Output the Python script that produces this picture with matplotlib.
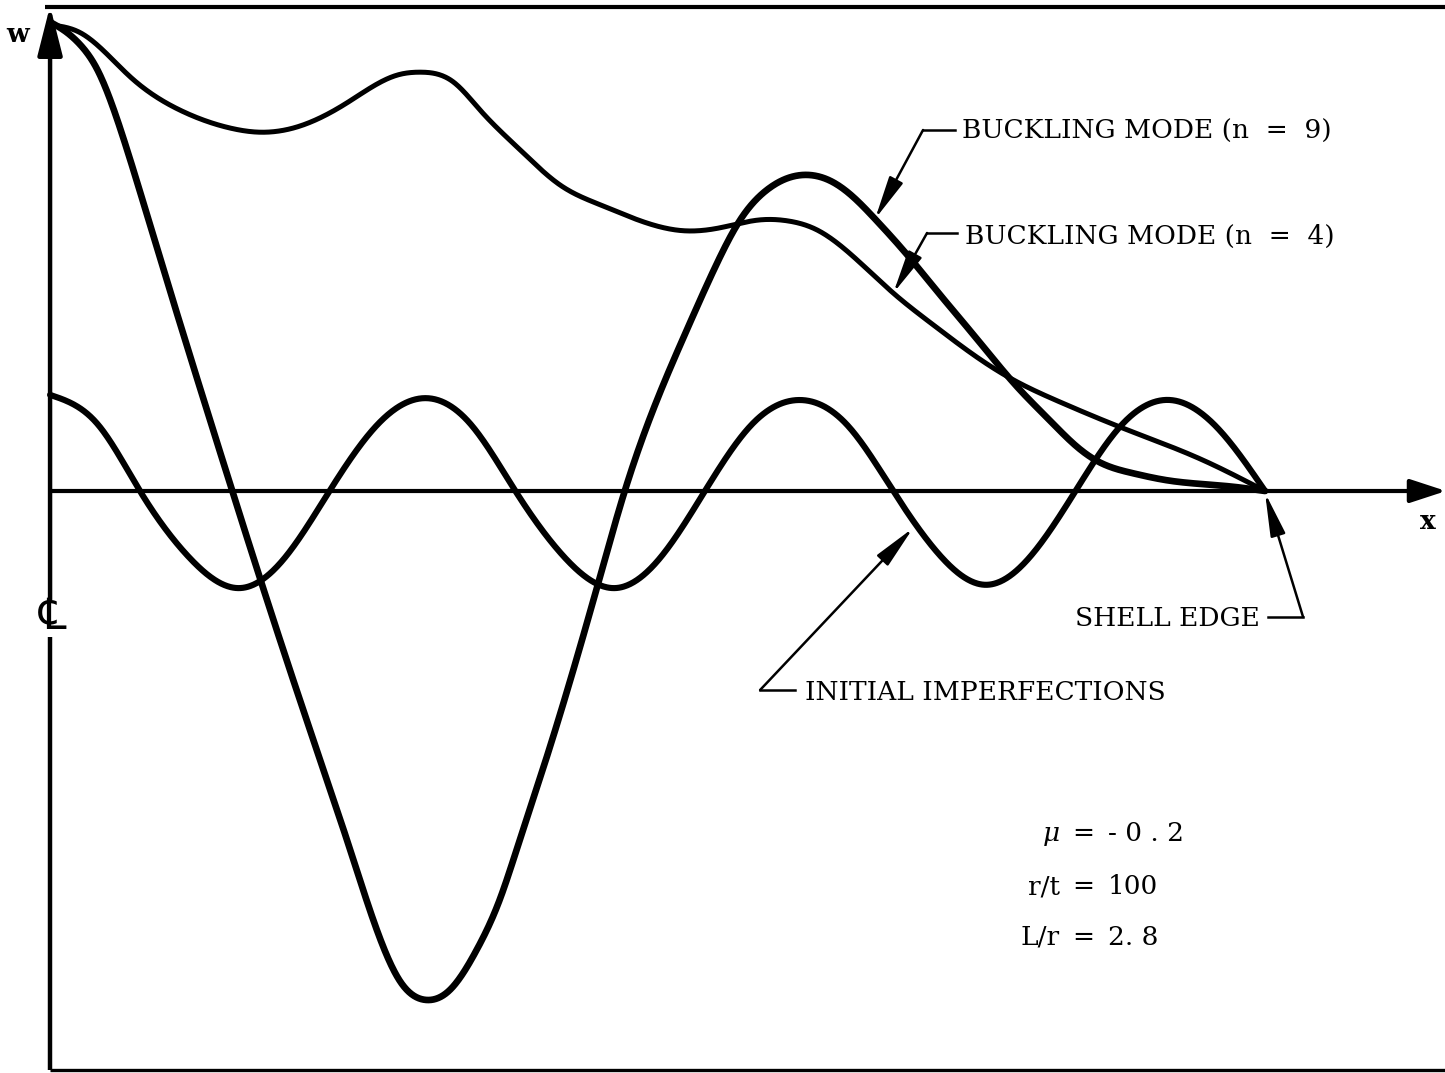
import numpy as np
import matplotlib
matplotlib.use("Agg")
import matplotlib.pyplot as plt

# Axial coordinate x measured from the centre line (CL = 0, shell edge = 1),
# radial deflection w normalised to the buckling-mode value at the centre line.
x_imperf = [0.000, 0.039, 0.074, 0.115, 0.156, 0.193, 0.230, 0.270, 0.309,
            0.346, 0.383, 0.424, 0.465, 0.502, 0.539, 0.578, 0.617, 0.656,
            0.694, 0.733, 0.770, 0.807, 0.844, 0.882, 0.922, 0.961, 1.000]
w_imperf = [0.205, 0.143, 0.000, -0.143, -0.207, -0.143, 0.000, 0.143, 0.198,
            0.143, 0.000, -0.143, -0.207, -0.143, 0.000, 0.143, 0.194, 0.141,
            0.000, -0.139, -0.200, -0.139, 0.000, 0.141, 0.194, 0.134, 0.000]

x_mode4 = [0.000, 0.025, 0.066, 0.107, 0.148, 0.173, 0.203, 0.244, 0.286,
           0.305, 0.332, 0.354, 0.387, 0.420, 0.453, 0.486, 0.521, 0.551,
           0.584, 0.607, 0.631, 0.658, 0.694, 0.727, 0.757, 0.790, 0.831,
           0.883, 0.947, 1.000]
w_mode4 = [0.994, 0.977, 0.883, 0.812, 0.774, 0.765, 0.776, 0.827, 0.887,
           0.893, 0.872, 0.812, 0.727, 0.652, 0.610, 0.576, 0.555, 0.561,
           0.578, 0.576, 0.557, 0.507, 0.422, 0.354, 0.296, 0.241, 0.190,
           0.134, 0.068, 0.000]

x_mode9 = [0.000, 0.011, 0.025, 0.039, 0.060, 0.085, 0.115, 0.150, 0.181,
           0.214, 0.247, 0.272, 0.288, 0.309, 0.329, 0.351, 0.370, 0.384,
           0.412, 0.450, 0.473, 0.524, 0.549, 0.568, 0.590, 0.623, 0.644,
           0.661, 0.679, 0.705, 0.732, 0.761, 0.796, 0.823, 0.844, 0.864,
           0.891, 0.919, 0.974, 1.000]
w_mode9 = [1.000, 0.983, 0.951, 0.898, 0.755, 0.544, 0.290, 0.000, -0.252,
           -0.510, -0.765, -0.957, -1.045, -1.085, -1.064, -0.979, -0.872, -0.765,
           -0.541, -0.207, 0.000, 0.343, 0.486, 0.578, 0.642, 0.674, 0.659,
           0.627, 0.580, 0.505, 0.420, 0.330, 0.222, 0.150, 0.097, 0.061,
           0.038, 0.023, 0.009, 0.000]

label_mode9 = "BUCKLING MODE (n  =  9)"
label_mode4 = "BUCKLING MODE (n  =  4)"
label_imperf = "INITIAL IMPERFECTIONS"
label_edge = "SHELL EDGE"
param_names = ["\u03bc", "r/t", "L/r"]
param_values = ["- 0 . 2", "100", "2. 8"]

SERIF = ["DejaVu Serif", "DejaVu Sans"]
INK = "black"


def spline(xs, ys, xq):
    """Natural cubic spline through the points (xs, ys), evaluated at xq."""
    x = np.asarray(xs, float)
    y = np.asarray(ys, float)
    n = len(x)
    h = np.diff(x)
    A = np.zeros((n, n))
    r = np.zeros(n)
    A[0, 0] = A[-1, -1] = 1.0
    for i in range(1, n - 1):
        A[i, i - 1] = h[i - 1]
        A[i, i] = 2.0 * (h[i - 1] + h[i])
        A[i, i + 1] = h[i]
        r[i] = 6.0 * ((y[i + 1] - y[i]) / h[i] - (y[i] - y[i - 1]) / h[i - 1])
    m = np.linalg.solve(A, r)
    k = np.clip(np.searchsorted(x, xq) - 1, 0, n - 2)
    hk = h[k]
    a = (x[k + 1] - xq) / hk
    b = (xq - x[k]) / hk
    return (a * y[k] + b * y[k + 1]
            + ((a ** 3 - a) * m[k] + (b ** 3 - b) * m[k + 1]) * hk ** 2 / 6.0)


fig = plt.figure(figsize=(14.45, 10.73), dpi=100)
fig.patch.set_facecolor("white")
ax = fig.add_axes([0, 0, 1, 1])
ax.set_xlim(-0.0412, 1.1481)
ax.set_ylim(-1.2409, 1.0469)
ax.axis("off")

# outer frame
ax.plot([-0.004, 1.15], [1.032, 1.032], color=INK, lw=3.0,
        solid_capstyle="butt", clip_on=False)
ax.plot([0.0, 1.15], [-1.2345, -1.2345], color=INK, lw=2.4,
        solid_capstyle="butt", clip_on=False)

# w axis (broken at the centre-line symbol)
ax.plot([0, 0], [-1.2345, -0.3113], color=INK, lw=3.2, solid_capstyle="butt")
ax.annotate("", xy=(0, 1.034), xytext=(0, -0.2324), annotation_clip=False,
            arrowprops=dict(arrowstyle="-|>,head_length=1.5,head_width=0.38",
                            mutation_scale=20, lw=3.2, color=INK,
                            shrinkA=0, shrinkB=0))
# x axis
ax.annotate("", xy=(1.149, 0), xytext=(0, 0), annotation_clip=False,
            arrowprops=dict(arrowstyle="-|>,head_length=1.1,head_width=0.36",
                            mutation_scale=20, lw=3.0, color=INK,
                            shrinkA=0, shrinkB=0))

# the three deflection curves
for xs, ws, lw in [(x_imperf, w_imperf, 4.4),
                   (x_mode4, w_mode4, 3.6),
                   (x_mode9, w_mode9, 4.8)]:
    xq = np.linspace(xs[0], xs[-1], 1500)
    ax.plot(xq, spline(xs, ws, xq), color=INK, lw=lw,
            solid_capstyle="round", solid_joinstyle="round")

tfont = dict(family=SERIF, fontsize=19, color=INK)
head = dict(arrowstyle="-|>,head_length=2.4,head_width=0.42",
            mutation_scale=11, lw=1.8, color=INK, shrinkA=0, shrinkB=0)

# axis letters and centre-line mark
ax.text(-0.0265, 0.9723, "w", ha="center", va="center", family=SERIF,
        fontsize=19, fontweight="bold", color=INK)
ax.text(1.1342, -0.064, "x", ha="center", va="center", family=SERIF,
        fontsize=19, fontweight="bold", color=INK)
ax.text(0.0025, -0.2690, "\u2104", ha="center", va="center", family=SERIF,
        fontsize=31, color=INK)

# buckling mode n = 9 callout
ax.annotate("", xy=(x_mode9[28], w_mode9[28]), xytext=(0.7185, 0.7697),
            arrowprops=head)
ax.plot([0.7185, 0.7449], [0.7697, 0.7697], color=INK, lw=1.8)
ax.text(0.7506, 0.7676, label_mode9, ha="left", va="center", **tfont)

# buckling mode n = 4 callout
ax.annotate("", xy=(x_mode4[22], w_mode4[22]), xytext=(0.7218, 0.5501),
            arrowprops=head)
ax.plot([0.7218, 0.7465], [0.5501, 0.5501], color=INK, lw=1.8)
ax.text(0.7531, 0.5437, label_mode4, ha="left", va="center", **tfont)

# initial imperfections callout
ax.annotate("", xy=(0.7103, -0.0789), xytext=(0.5844, -0.4243),
            arrowprops=head)
ax.plot([0.5844, 0.6132], [-0.4243, -0.4243], color=INK, lw=1.8)
ax.text(0.6214, -0.4286, label_imperf, ha="left", va="center", **tfont)

# shell edge callout
ax.annotate("", xy=(1.0, -0.004), xytext=(1.0313, -0.2687),
            arrowprops=head)
ax.plot([1.0025, 1.0313], [-0.2687, -0.2687], color=INK, lw=1.8)
ax.text(0.9959, -0.2708, label_edge, ha="right", va="center", **tfont)

# shell parameters
for name, value, wy in zip(param_names, param_values, [-0.7292, -0.8443, -0.951]):
    style = "italic" if name == "\u03bc" else "normal"
    ax.text(0.8313, wy, name, ha="right", va="center", style=style, **tfont)
    ax.text(0.8502, wy, "=", ha="center", va="center", **tfont)
    ax.text(0.8708, wy, value, ha="left", va="center", **tfont)

fig.savefig("out.png", dpi=100, facecolor="white")
